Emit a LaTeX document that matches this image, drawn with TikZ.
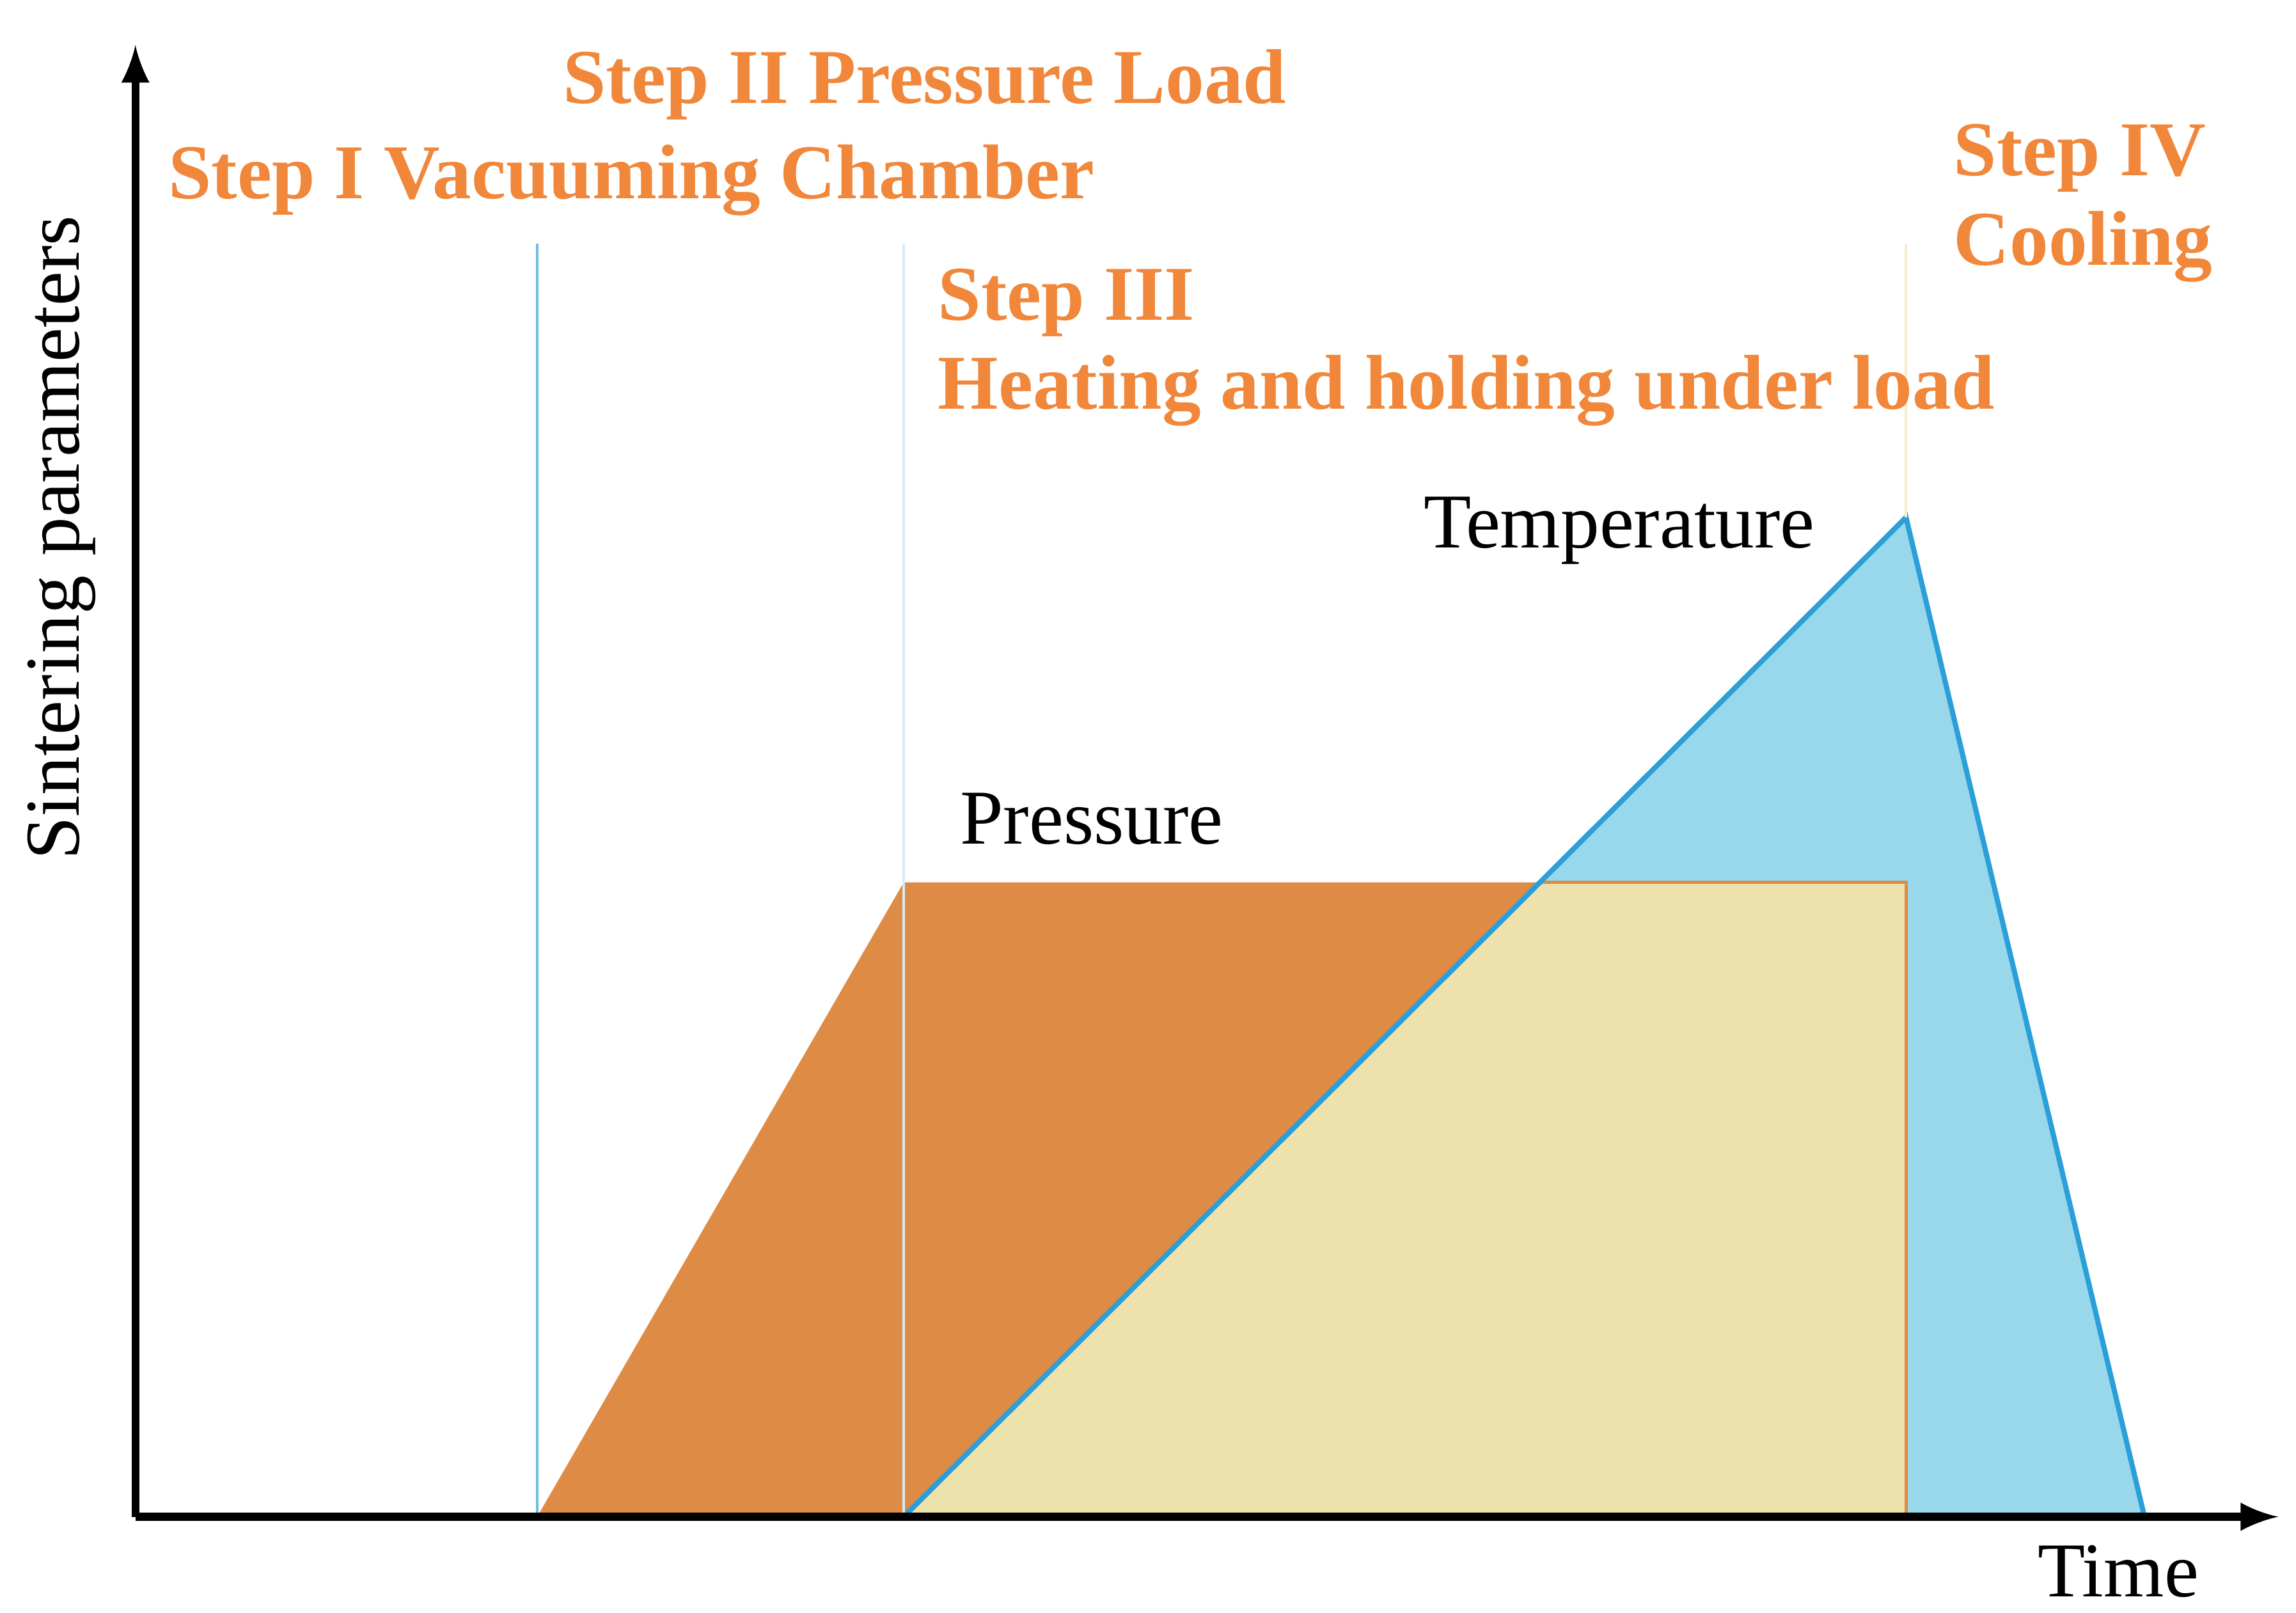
\documentclass[tikz,border=0pt]{standalone}
\usepackage{fontspec}
\setmainfont{Liberation Serif}
\begin{document}
\begin{tikzpicture}[x=1cm,y=1cm,
  steplab/.style={anchor=west,text=stepc,font=\fontsize{15}{18}\selectfont\bfseries,align=left},
  lab/.style={anchor=west,font=\fontsize{15}{18}\selectfont}]
\definecolor{stepc}{HTML}{F0873A}
\definecolor{pres}{HTML}{DE8B45}
\definecolor{temp}{HTML}{98D8EA}
\definecolor{both}{HTML}{EEE2AC}
\definecolor{tline}{HTML}{2B9FD8}
\useasboundingbox (0,0) rectangle (15.6,10.955);
\coordinate (O) at (0.92,0.65);
\coordinate (Y) at (0.92,10.65);
\coordinate (X) at (15.48,0.65);
\coordinate (p0) at (3.65,0.65);
\coordinate (p1) at (6.14,4.96);
\coordinate (px) at (10.45,4.96);
\coordinate (p2) at (12.95,4.96);
\coordinate (p3) at (12.95,0.65);
\coordinate (t0) at (6.14,0.65);
\coordinate (t1) at (12.95,7.44);
\coordinate (t2) at (14.57,0.65);
\fill[pres] (p0)--(p1)--(p2)--(p3)--cycle;
\fill[temp] (t0)--(t1)--(t2)--cycle;
\fill[both] (t0)--(px)--(p2)--(p3)--cycle;
\draw[pres,line width=0.6pt] (px)--(p2)--(p3);
\draw[tline,line width=1pt] (t0)--(t1)--(t2);
\draw[tline!70,line width=0.5pt] (3.65,0.65)--(3.65,9.3);
\draw[tline!20,line width=0.5pt] (6.14,0.65)--(6.14,9.3);
\draw[both!60,line width=0.5pt] (12.95,7.44)--(12.95,9.3);
\draw[line width=1.5pt,-latex] (O)--(Y);
\draw[line width=1.5pt,-latex] (O)--(X);
\node[steplab] (s2) at (3.70,10.38) {Step II Pressure Load};
\node[steplab] (s1) at (1.02,9.73) {Step I Vacuuming Chamber};
\node[steplab] (s4a) at (13.15,9.88) {Step IV};
\node[steplab] (s4b) at (13.15,9.28) {Cooling};
\node[steplab] (s3a) at (6.25,8.9) {Step III};
\node[steplab] (s3b) at (6.25,8.3) {Heating and holding under load};
\node[lab] (tl) at (9.55,7.35) {Temperature};
\node[lab] (pl) at (6.40,5.39) {Pressure};
\node[lab] (tm) at (13.72,0.28) {Time};
\node[lab,anchor=center,rotate=90] (sp) at (0.42,7.3) {Sintering parameters};
\end{tikzpicture}
\end{document}
